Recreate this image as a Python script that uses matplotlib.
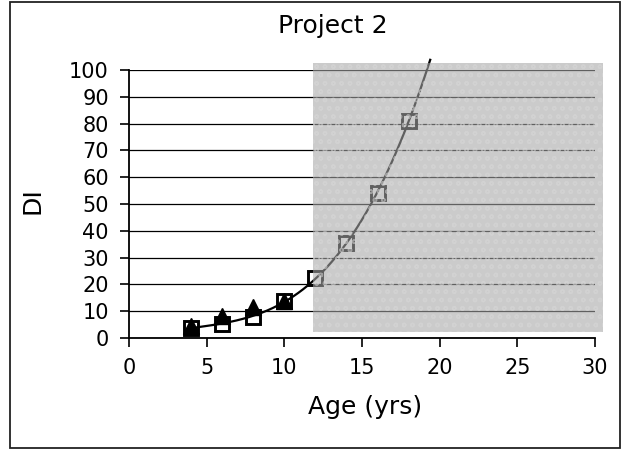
import numpy as np
import matplotlib
matplotlib.use("Agg")
import matplotlib.pyplot as plt
from matplotlib.patches import Rectangle

# Data
age_sq = [4, 6, 8, 10, 12, 14, 16, 18]
di_sq = [3.8, 5.3, 8.0, 13.7, 22.4, 35.4, 54.1, 81.0]
age_tri = [4, 6, 8, 10]
di_tri = [4.5, 8.3, 11.7, 13.9]
x_ticks = [0, 5, 10, 15, 20, 25, 30]
y_ticks = [0, 10, 20, 30, 40, 50, 60, 70, 80, 90, 100]
shade_x = [11.85, 30.5]
shade_y = [2.2, 102.6]

plt.rcParams['font.family'] = ['DejaVu Sans']

W, H = 627, 449
fig = plt.figure(figsize=(W / 100, H / 100), dpi=100)
ax = fig.add_axes([129 / W, 1 - 338 / H, (595 - 129) / W, (338 - 70) / H])

ax.set_xlim(0, 30)
ax.set_ylim(0, 100)
ax.set_xticks(x_ticks)
ax.set_yticks(y_ticks)
ax.tick_params(axis='both', labelsize=15, length=6.5, width=1.2, color='black', direction='out')
ax.tick_params(axis='y', pad=8)
ax.tick_params(axis='x', pad=8)
for s in ['top', 'right']:
    ax.spines[s].set_visible(False)
for s in ['left', 'bottom']:
    ax.spines[s].set_linewidth(1.3)
    ax.spines[s].set_color('black')
ax.yaxis.grid(True, color='black', linewidth=0.9)
ax.set_axisbelow(True)

# Polynomial trend line fitted to the square series
coef = np.polyfit(age_sq, di_sq, 3)
xs = np.linspace(4, 19.6, 300)
ys = np.polyval(coef, xs)
mask = ys <= 104
ax.plot(xs[mask], ys[mask], color='black', linewidth=1.6, clip_on=False, zorder=3)

ax.plot(age_sq, di_sq, linestyle='none', marker='s', markersize=10.5,
        markerfacecolor='none', markeredgecolor='black', markeredgewidth=2.1, zorder=4)
ax.plot(age_tri, di_tri, linestyle='none', marker='^', markersize=11,
        markerfacecolor='black', markeredgecolor='black', zorder=5)

# Shaded overlay region
ax.add_patch(Rectangle((shade_x[0], shade_y[0]), shade_x[1] - shade_x[0], shade_y[1] - shade_y[0],
                       facecolor='#a6a6a6', alpha=0.58, edgecolor='none', clip_on=False, zorder=6))
ax.add_patch(Rectangle((shade_x[0], shade_y[0]), shade_x[1] - shade_x[0], shade_y[1] - shade_y[0],
                       facecolor='none', edgecolor='#d8d8d8', hatch='oo', linewidth=0,
                       alpha=0.5, clip_on=False, zorder=6))

fig.text(333 / W, 1 - 33 / H, 'Project 2', ha='center', va='baseline', fontsize=18)
fig.text(365 / W, 1 - 414 / H, 'Age (yrs)', ha='center', va='baseline', fontsize=18)
fig.text(33 / W, 1 - 201 / H, 'DI', ha='center', va='center', fontsize=18, rotation=90)

# Figure frame
fig.add_artist(Rectangle((10 / W, 1 - 448 / H), (620 - 10) / W, (448 - 2) / H,
                         transform=fig.transFigure, facecolor='none',
                         edgecolor='#222222', linewidth=1.3))

fig.savefig('out.png', dpi=100)
